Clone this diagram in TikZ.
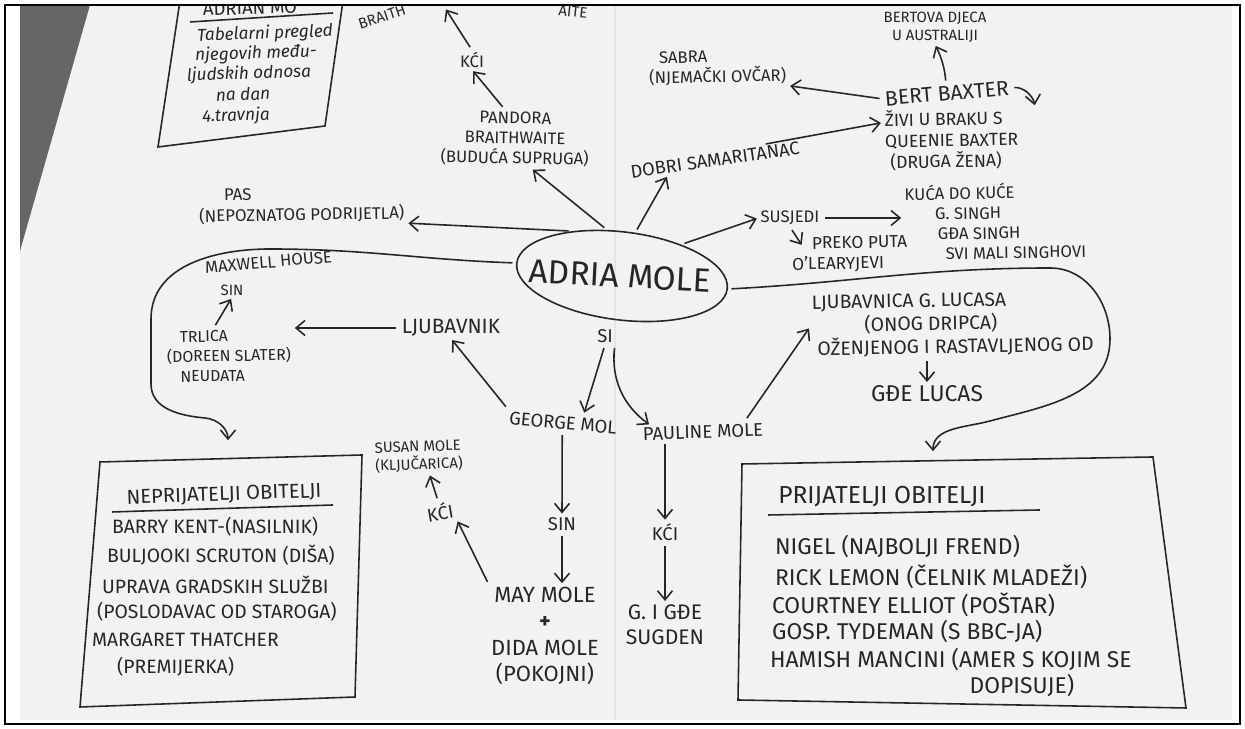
\documentclass[tikz,border=0pt]{standalone}
\usepackage{fontspec}
\setmainfont{Fira Sans}
\usetikzlibrary{shapes.geometric,arrows.meta,positioning}

\begin{document}
\begin{tikzpicture}[x=0.2mm,y=0.2mm,
    hand/.style={inner sep=1pt,align=center,text=black!85},
    s8/.style={hand,font=\fontsize{8.5}{10.2}\selectfont},
    s9/.style={hand,font=\fontsize{9.5}{11.4}\selectfont},
    s10/.style={hand,font=\fontsize{10.5}{12.6}\selectfont},
    s11/.style={hand,font=\fontsize{11}{13.2}\selectfont},
    s13/.style={hand,font=\fontsize{13}{15.6}\selectfont},
    note/.style={hand,font=\itshape\fontsize{9.8}{11.8}\selectfont},
    pen/.style={line width=0.9pt,black!85},
    arr/.style={pen,-{Straight Barb[length=1.8mm,width=3mm]},shorten <=2pt,shorten >=1pt}]
\useasboundingbox (0,0) rectangle (1245,729);
\fill[white] (0,0) rectangle (1245,729);
\begin{scope}
\clip (20,9) rectangle (1232,724);
\fill[black!5] (20,9) rectangle (1232,724);
\fill[black!60] (20,724) -- (90,724) -- (20,478) -- cycle;
\draw[black!10,line width=1.5pt] (615,9) -- (615,724);

% title card
\draw[pen] (181,735) -- (158,582) -- (325,603) -- (344,735);
\node[s10,rotate=2] (hdr) at (250,721) {ADRIAN MO};
\draw[pen] (190,707) -- (333,716);
\node[note,rotate=2] (tab1) at (265,695) {Tabelarni pregled};
\node[note,rotate=2] (tab2) at (256,675) {njegovih među-};
\node[note,rotate=2] (tab3) at (249,655) {ljudskih odnosa};
\node[note,rotate=2] (tab4) at (243,635) {na dan};
\node[note,rotate=2] (tab5) at (236,613) {4.travnja};

% centre
\node[draw,pen,ellipse,inner sep=0pt,minimum width=42.4mm,minimum height=17.6mm,rotate=-7] (adrian) at (622,453) {};
\node[hand,font=\fontsize{19}{20}\selectfont,rotate=-3] (adriantxt) at (620,453) {ADRIA MOLE};

% upper half
\node[s8,rotate=18] (braith) at (382,712) {BRAITH};
\node[s8,rotate=-6] (aite) at (573,717) {AITE};
\coordinate (braithtop) at (445,721);
\node[s9] (kci1) at (472,669) {KĆI};
\node[s9,rotate=-1] (pandora) at (515,590) {PANDORA\\BRAITHWAITE\\(BUDUĆA SUPRUGA)};
\node[s9,font=\fontsize{9.6}{12}\selectfont,align=left,anchor=west,rotate=1] (pas) at (197,522) {\hspace*{5mm}PAS\\(NEPOZNATOG PODRIJETLA)};
\node[s8] (bertova) at (935,702) {BERTOVA DJECA\\U AUSTRALIJI};
\node[s9,align=left,anchor=west,rotate=1] (sabra) at (647,660) {\hspace*{2mm}SABRA\\(NJEMAČKI OVČAR)};
\node[s11,font=\fontsize{12}{13}\selectfont,anchor=west,rotate=5] (bert) at (883,630) {BERT BAXTER};
\node[s10,font=\fontsize{10}{12}\selectfont,align=left,anchor=west,rotate=1] (bertwife) at (883,588) {ŽIVI U BRAKU S\\QUEENIE BAXTER\\\hspace*{1mm}(DRUGA ŽENA)};
\coordinate (hook) at (1035,622);
\node[s10,font=\fontsize{10.4}{11}\selectfont,rotate=8] (dobri) at (715,569) {DOBRI SAMARITANAC};
\node[s9] (susjedi) at (790,511) {SUSJEDI};
\node[s9,align=left,anchor=west,rotate=1] (singh) at (903,506) {KUĆA DO KUĆE\\\hspace*{6mm}G. SINGH\\\hspace*{6.5mm}GĐA SINGH\\\hspace*{8mm}SVI MALI SINGHOVI};
\node[s9,font=\fontsize{9.8}{11.8}\selectfont,align=left,anchor=west,rotate=1] (oleary) at (790,474) {\hspace*{4mm}PREKO PUTA\\O'LEARYJEVI};

\draw[arr] (adrian.145) to (pas.south east);
\draw[arr] (adrian.115) to (pandora.-60);
\draw[arr] (pandora.110) to (kci1.south);
\draw[arr] (kci1.north) to (braithtop);
\draw[arr] (adrian.80) to (dobri.190);
\draw[arr] (dobri.10) to (bertwife.165);
\draw[arr] (bert.west) to (sabra.south east);
\draw[arr] (bert.north) to[bend right=10] (bertova.south);
\draw[arr] (bert.east) to[out=5,in=100] (hook);
\draw[arr] (adrian.35) to (susjedi.west);
\draw[arr] (susjedi.east) -- (susjedi.east -| singh.west);
\draw[arr] (susjedi.south) to ([shift={(2.6mm,-2.2mm)}]oleary.north west);

% lower half
\node[s11,align=left,anchor=west,rotate=1] (ljubavnica) at (810,402) {LJUBAVNICA G. LUCASA\\\hspace*{10.5mm}(ONOG DRIPCA)\\\hspace*{1mm}OŽENJENOG I RASTAVLJENOG OD};
\node[s13] (gdelucas) at (927,335) {GĐE LUCAS};
\node[s9,anchor=west,rotate=5] (maxwell) at (203,461) {MAXWELL HOUSE};
\node[s8] (maxsin) at (232,439) {SIN};
\node[s9,font=\fontsize{9}{11.3}\selectfont,align=left,anchor=west,rotate=1] (trlica) at (165,372) {\hspace*{2.6mm}TRLICA\\(DOREEN SLATER)\\\hspace*{2.6mm}NEUDATA};
\node[s11,font=\fontsize{11.8}{13}\selectfont] (ljubavnik) at (451,401) {LJUBAVNIK};
\node[s10] (si) at (605,393) {SI};
\node[s10,rotate=-5] (george) at (563,306) {GEORGE MOL};
\node[s10,rotate=2] (pauline) at (703,297) {PAULINE MOLE};
\node[s8,align=left,anchor=west,rotate=2] (susan) at (373,271) {SUSAN MOLE\\(KLJUČARICA)};
\node[s10,rotate=10] (kci2) at (440,217) {KĆI};
\node[s10] (sin2) at (562,205) {SIN};
\node[s13,font=\fontsize{12.5}{15}\selectfont] (may) at (545,93) {MAY MOLE\\\textbf{+}\\DIDA MOLE\\(POKOJNI)};
\node[s10] (kci3) at (665,197) {KĆI};
\node[s11,font=\fontsize{12}{14.4}\selectfont] (sugden) at (665,104) {G. I GĐE\\SUGDEN};
\coordinate (enemytop) at (228,287);
\coordinate (friendtop) at (933,276);

\draw[arr] ([xshift=-4mm]pauline.north east) to (ljubavnica.west);
\draw[arr] (gdelucas.north |- ljubavnica.south) -- (gdelucas.north);
\draw[arr] (ljubavnik.west) -- (ljubavnik.west -| trlica.east);
\draw[arr] ([xshift=-3mm]trlica.north) to (maxsin.south);
\draw[arr] (george.north west) to (ljubavnik.south);
\draw[arr] (si.south) to ([xshift=4mm]george.north);
\draw[arr] (si.south east) to[bend right=30] ([xshift=2mm]pauline.north west);
\draw[arr] (george.south) to (sin2.north);
\draw[arr] (sin2.south) -- (sin2.south |- may.north);
\draw[arr] (may.north west) to (kci2.south east);
\draw[arr] (kci2.north) to ([xshift=2mm]susan.south);
\draw[arr] (kci3.north |- pauline.south) -- (kci3.north);
\draw[arr] (kci3.south) to (sugden.north);

% the two loops
\draw[arr] (adrian.west) to[out=178,in=0] (270,480) to[out=180,in=90] (151,410) -- (151,345) to[out=-90,in=175] (205,311) to[out=-5,in=90] (enemytop);
\draw[arr] (adrian.east) to[out=3,in=180] (1050,461) to[out=0,in=90] (1110,390) to[out=-90,in=15] (990,308) to[out=195,in=90] (friendtop);

% enemies
\draw[pen] (100,267) -- (362,274) -- (355,32) -- (80,22) -- cycle;
\node[s11,font=\fontsize{11.5}{13}\selectfont,rotate=2] (e0) at (224,234) {NEPRIJATELJI OBITELJI};
\draw[pen] (112,217) -- (333,224);
\node[s11,anchor=west] (e1) at (110,202) {BARRY KENT-(NASILNIK)};
\node[s11,anchor=west] (e2) at (105,174) {BULJOOKI SCRUTON (DIŠA)};
\node[s11,anchor=west] (e3) at (100,144) {UPRAVA GRADSKIH SLUŽBI};
\node[s11,anchor=west] (e4) at (95,117) {(POSLODAVAC OD STAROGA)};
\node[s11,anchor=west] (e5) at (90,89) {MARGARET THATCHER};
\node[s11,anchor=west] (e6) at (115,62) {(PREMIJERKA)};

% friends
\draw[pen] (742,265) -- (1153,272) -- (1186,21) -- (738,29) -- cycle;
\node[s13,font=\fontsize{14}{15}\selectfont] (f0) at (882,232) {PRIJATELJI OBITELJI};
\draw[pen] (768,214) -- (1040,219);
\node[s13,anchor=west] (f1) at (773,182) {NIGEL (NAJBOLJI FREND)};
\node[s13,anchor=west] (f2) at (773,152) {RICK LEMON (ČELNIK MLADEŽI)};
\node[s13,anchor=west] (f3) at (770,124) {COURTNEY ELLIOT (POŠTAR)};
\node[s13,anchor=west] (f4) at (770,97) {GOSP. TYDEMAN (S BBC-JA)};
\node[s13,anchor=west] (f5) at (768,69) {HAMISH MANCINI (AMER S KOJIM SE};
\node[s13] (f6) at (1022,43) {DOPISUJE)};
\end{scope}
\draw[line width=0.6pt] (5,5) rectangle (1240,724);
\end{tikzpicture}
\end{document}
